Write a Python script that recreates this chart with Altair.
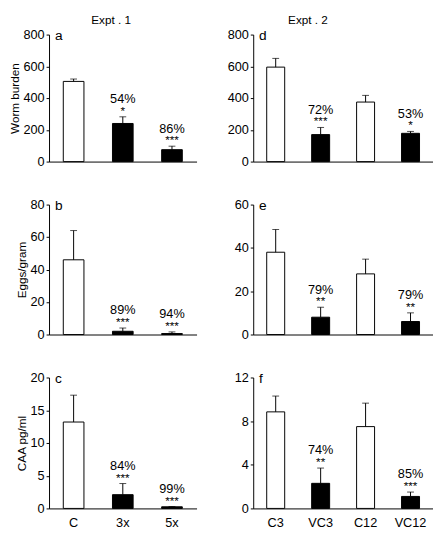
import altair as alt
import pandas as pd

FONT = "Liberation Sans"

# Groups
GROUPS_1 = ["C", "3x", "5x"]
KIND_1 = ["control", "vaccinated", "vaccinated"]
GROUPS_2 = ["C3", "VC3", "C12", "VC12"]
KIND_2 = ["control", "vaccinated", "control", "vaccinated"]

# Expt 1 - Worm burden (a)
A_MEAN = [505, 240, 75]
A_ERR = [15, 42, 22]
A_PCT = ["", "54%", "86%"]
A_STARS = ["", "*", "***"]
# Expt 1 - Eggs/gram (b)
B_MEAN = [46, 2, 0.6]
B_ERR = [18, 2, 1]
B_PCT = ["", "89%", "94%"]
B_STARS = ["", "***", "***"]
# Expt 1 - CAA pg/ml (c)
C_MEAN = [13.2, 2.1, 0.25]
C_ERR = [4.1, 1.7, 0.05]
C_PCT = ["", "84%", "99%"]
C_STARS = ["", "***", "***"]
# Expt 2 - Worm burden (d)
D_MEAN = [595, 170, 375, 178]
D_ERR = [55, 45, 42, 12]
D_PCT = ["", "72%", "", "53%"]
D_STARS = ["", "***", "", "*"]
# Expt 2 - Eggs/gram (e)
E_MEAN = [38, 8, 28, 6]
E_ERR = [10.5, 4.6, 6.8, 4]
E_PCT = ["", "79%", "", "79%"]
E_STARS = ["", "**", "", "**"]
# Expt 2 - CAA pg/ml (f)
F_MEAN = [8.85, 2.3, 7.5, 1.1]
F_ERR = [1.45, 1.4, 2.15, 0.4]
F_PCT = ["", "74%", "", "85%"]
F_STARS = ["", "**", "", "***"]

Y_TITLES = ["Worm burden", "Eggs/gram", "CAA pg/ml"]
Y_MAX = [800, 80, 20]
Y_MAX_2 = [800, 60, 12]
Y_TICKS = [[0, 200, 400, 600, 800], [0, 20, 40, 60, 80], [0, 5, 10, 15, 20]]
Y_TICKS_2 = [[0, 200, 400, 600, 800], [0, 20, 40, 60], [0, 4, 8, 12]]
PANEL_LETTERS = ["a", "b", "c", "d", "e", "f"]
COL_TITLES = ["Expt . 1", "Expt . 2"]


def make_df(groups, kinds, mean, err, pct, stars):
    df = pd.DataFrame({"group": groups, "kind": kinds, "mean": mean,
                       "err": err, "pct": pct, "stars": stars})
    df["top"] = df["mean"] + df["err"]
    return df


def panel(df, groups, width, height, ymax, ticks, ytitle, letter, show_x, title,
          title_dx, p_inner, p_outer):
    xaxis = alt.Axis(title=None, ticks=False, labels=show_x, labelAngle=0,
                     labelFontSize=13, labelPadding=8 if show_x else 0,
                     domainColor="black")
    xscale = alt.Scale(domain=groups, paddingInner=p_inner, paddingOuter=p_outer)
    xenc = alt.X("group:N", sort=groups, scale=xscale, axis=xaxis)
    ys = alt.Scale(domain=[0, ymax], nice=False, zero=True)
    yaxis = alt.Axis(values=ticks, grid=False, tickSize=3, labelFontSize=13,
                     labelPadding=2, labelOverlap=False,
                     title=ytitle if ytitle else None,
                     titleFontSize=12, titleFontWeight="normal", titlePadding=2)
    ymean = alt.Y("mean:Q", scale=ys, axis=yaxis)
    ytop = alt.Y("top:Q", scale=ys, axis=yaxis)
    base = alt.Chart(df)
    bars = base.mark_bar(stroke="black", strokeWidth=1).encode(
        x=xenc, y=ymean,
        fill=alt.Fill("kind:N", scale=alt.Scale(domain=["control", "vaccinated"],
                                                 range=["white", "black"]), legend=None),
    )
    rule = base.mark_rule(color="black", strokeWidth=1).encode(
        x=xenc, y=ymean, y2="top:Q")
    cap = base.mark_tick(color="black", thickness=1, size=7).encode(
        x=xenc, y=ytop)
    pct = base.mark_text(fontSize=13, font=FONT, dy=-14, baseline="alphabetic",
                         color="black").encode(
        x=xenc, y=ytop, text="pct:N")
    st = base.mark_text(fontSize=12, font=FONT, dy=-2, baseline="alphabetic",
                        color="black").encode(
        x=xenc, y=ytop, text="stars:N")
    lab = alt.Chart(pd.DataFrame({"l": [letter]})).mark_text(
        fontSize=14, font=FONT, align="left", baseline="middle", color="black").encode(
        text="l:N", x=alt.value(6), y=alt.value(2))
    props = dict(width=width, height=height)
    if title:
        props["title"] = alt.TitleParams(title, fontSize=12, fontWeight="normal",
                                         font=FONT, anchor="middle", offset=2,
                                         dx=title_dx)
    return alt.layer(bars, rule, cap, pct, st, lab).properties(**props)


dfs1 = [make_df(GROUPS_1, KIND_1, A_MEAN, A_ERR, A_PCT, A_STARS),
        make_df(GROUPS_1, KIND_1, B_MEAN, B_ERR, B_PCT, B_STARS),
        make_df(GROUPS_1, KIND_1, C_MEAN, C_ERR, C_PCT, C_STARS)]
dfs2 = [make_df(GROUPS_2, KIND_2, D_MEAN, D_ERR, D_PCT, D_STARS),
        make_df(GROUPS_2, KIND_2, E_MEAN, E_ERR, E_PCT, E_STARS),
        make_df(GROUPS_2, KIND_2, F_MEAN, F_ERR, F_PCT, F_STARS)]
heights = [130, 133, 134]

left = alt.vconcat(*[
    panel(dfs1[i], GROUPS_1, 151, heights[i], Y_MAX[i], Y_TICKS[i], Y_TITLES[i],
          PANEL_LETTERS[i], i == 2, COL_TITLES[0] if i == 0 else None, -12, 0.58, 0.29)
    for i in range(3)], spacing=31)
right = alt.vconcat(*[
    panel(dfs2[i], GROUPS_2, 184, heights[i], Y_MAX_2[i], Y_TICKS_2[i], None,
          PANEL_LETTERS[i + 3], i == 2, COL_TITLES[1] if i == 0 else None, -36, 0.6, 0.3)
    for i in range(3)], spacing=31)

chart = alt.hconcat(left, right, spacing=31).properties(
    padding={"left": 0, "top": 0, "right": 0, "bottom": 0}
).configure_view(stroke=None).configure_axis(
    domainColor="black", tickColor="black", labelColor="black", titleColor="black",
    labelFont=FONT, titleFont=FONT
).configure_title(color="black")

chart.save("out.html", embed_options={"renderer": "svg", "actions": False})
